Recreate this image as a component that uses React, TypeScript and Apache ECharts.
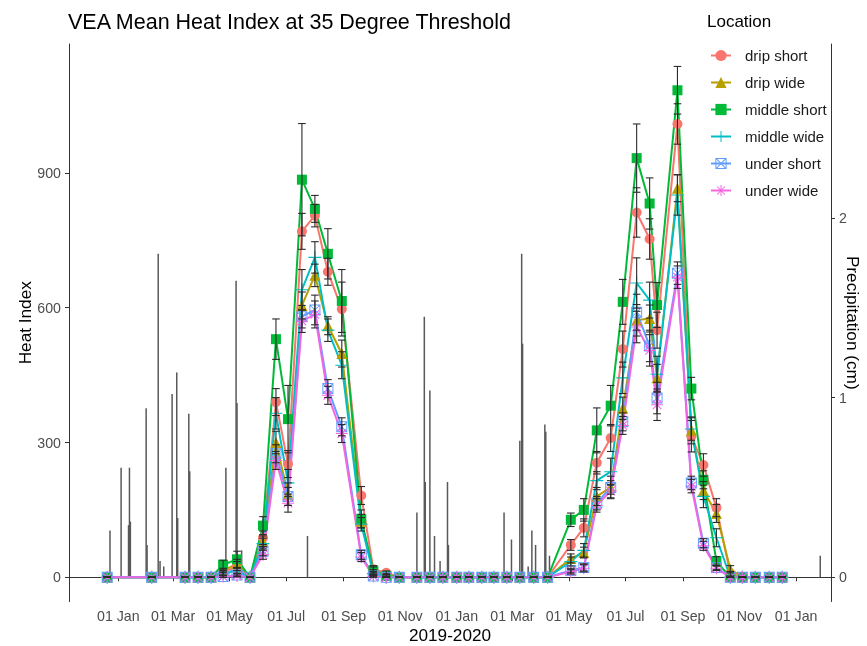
import { useEffect, useRef } from "react";
import * as echarts from "echarts";

// Biweekly sampling dates of the heat index loggers
const sampleDates = [
  "2018-12-20", "2019-02-06", "2019-03-14", "2019-03-28", "2019-04-11", "2019-04-24",
  "2019-05-09", "2019-05-23", "2019-06-06", "2019-06-20", "2019-07-03", "2019-07-18",
  "2019-08-01", "2019-08-15", "2019-08-30", "2019-09-20", "2019-10-03", "2019-10-17",
  "2019-10-31", "2019-11-19", "2019-12-03", "2019-12-17", "2020-01-01", "2020-01-14",
  "2020-01-28", "2020-02-10", "2020-02-24", "2020-03-09", "2020-03-24", "2020-04-08",
  "2020-05-03", "2020-05-17", "2020-05-31", "2020-06-15", "2020-06-28", "2020-07-13",
  "2020-07-27", "2020-08-04", "2020-08-26", "2020-09-10", "2020-09-23", "2020-10-07",
  "2020-10-22", "2020-11-04", "2020-11-18", "2020-12-03", "2020-12-17",
];

// Mean heat index per location
const dripShort = [0, 0, 0, 0, 0, 10, 25, 0, 88, 390, 252, 770, 805, 680, 597, 182, 18, 10, 0, 0, 0, 0, 0, 0, 0, 0, 0, 0, 0, 0, 72, 110, 255, 310, 508, 812, 753, 550, 1009, 314, 250, 155, 8, 0, 0, 0, 0];
const dripWide = [0, 0, 0, 0, 0, 15, 30, 0, 80, 300, 185, 605, 672, 560, 498, 125, 12, 5, 0, 0, 0, 0, 0, 0, 0, 0, 0, 0, 0, 0, 42, 55, 180, 200, 376, 572, 576, 444, 866, 327, 193, 142, 18, 0, 0, 0, 0];
const middleShort = [0, 0, 0, 0, 0, 28, 40, 0, 115, 530, 352, 885, 820, 720, 615, 130, 15, 3, 0, 0, 0, 0, 0, 0, 0, 0, 0, 0, 0, 0, 128, 150, 327, 382, 613, 933, 832, 606, 1084, 420, 217, 36, 0, 0, 0, 0, 0];
const middleWide = [0, 0, 0, 0, 0, 8, 15, 0, 75, 365, 210, 640, 712, 550, 472, 118, 8, 0, 0, 0, 0, 0, 0, 0, 0, 0, 0, 0, 0, 0, 35, 60, 215, 235, 444, 655, 617, 452, 851, 330, 180, 88, 0, 0, 0, 0, 0];
const underShort = [0, 0, 0, 0, 0, 2, 5, 0, 58, 275, 180, 580, 595, 420, 335, 50, 3, 0, 0, 0, 0, 0, 0, 0, 0, 0, 0, 0, 0, 0, 15, 22, 165, 200, 346, 590, 515, 399, 677, 210, 76, 22, 0, 0, 0, 0, 0];
const underWide = [0, 0, 0, 0, 0, 2, 3, 0, 50, 260, 165, 570, 585, 405, 320, 45, 2, 0, 0, 0, 0, 0, 0, 0, 0, 0, 0, 0, 0, 0, 12, 20, 160, 192, 338, 557, 505, 384, 668, 203, 70, 20, 0, 0, 0, 0, 0];

// Standard errors (half-widths of the error bars)
const dripShortSe = [0, 0, 0, 0, 0, 5, 10, 0, 15, 30, 30, 40, 25, 30, 60, 20, 8, 4, 0, 0, 0, 0, 0, 0, 0, 0, 0, 0, 0, 0, 12, 20, 25, 30, 40, 55, 45, 40, 45, 35, 25, 20, 5, 0, 0, 0, 0];
const dripWideSe = [0, 0, 0, 0, 0, 5, 10, 0, 12, 25, 25, 30, 25, 20, 30, 15, 5, 3, 0, 0, 0, 0, 0, 0, 0, 0, 0, 0, 0, 0, 10, 12, 20, 25, 25, 35, 30, 30, 30, 30, 20, 20, 8, 0, 0, 0, 0];
const middleShortSe = [0, 0, 0, 0, 0, 10, 18, 0, 20, 45, 75, 125, 30, 56, 70, 20, 8, 2, 0, 0, 0, 0, 0, 0, 0, 0, 0, 0, 0, 0, 15, 25, 50, 45, 50, 76, 57, 50, 53, 25, 20, 10, 0, 0, 0, 0, 0];
const middleWideSe = [0, 0, 0, 0, 0, 4, 6, 0, 12, 35, 30, 45, 35, 25, 30, 15, 5, 0, 0, 0, 0, 0, 0, 0, 0, 0, 0, 0, 0, 0, 10, 15, 20, 30, 35, 56, 40, 40, 45, 25, 25, 20, 0, 0, 0, 0, 0];
const underShortSe = [0, 0, 0, 0, 0, 2, 3, 0, 10, 20, 20, 25, 33, 20, 20, 10, 2, 0, 0, 0, 0, 0, 0, 0, 0, 0, 0, 0, 0, 0, 5, 8, 15, 15, 20, 40, 35, 35, 25, 15, 10, 5, 0, 0, 0, 0, 0];
const underWideSe = [0, 0, 0, 0, 0, 2, 2, 0, 10, 20, 20, 25, 30, 20, 20, 10, 2, 0, 0, 0, 0, 0, 0, 0, 0, 0, 0, 0, 0, 0, 5, 8, 15, 15, 20, 35, 35, 35, 25, 15, 10, 5, 0, 0, 0, 0, 0];

// Daily precipitation events (cm)
const precipDates = [
  "2018-12-23", "2019-01-04", "2019-01-12", "2019-01-13", "2019-01-14", "2019-01-31",
  "2019-02-01", "2019-02-13", "2019-02-15", "2019-02-19", "2019-02-28", "2019-03-05",
  "2019-03-06", "2019-03-18", "2019-03-19", "2019-04-27", "2019-05-08", "2019-05-09",
  "2019-05-14", "2019-07-24", "2019-11-19", "2019-11-27", "2019-11-28", "2019-12-03",
  "2019-12-08", "2019-12-14", "2019-12-22", "2019-12-23", "2020-02-21", "2020-02-29",
  "2020-03-09", "2020-03-11", "2020-03-12", "2020-03-18", "2020-03-22", "2020-03-26",
  "2020-04-05", "2020-04-06", "2020-04-10", "2021-01-27",
];
const precipCm = [
  0.26, 0.61, 0.29, 0.61, 0.31, 0.94,
  0.18, 1.8, 0.09, 0.06, 1.02, 1.14,
  0.33, 0.91, 0.59, 0.61, 1.65, 0.97,
  0.15, 0.23, 0.36, 1.45, 0.53, 1.04,
  0.23, 0.09, 0.53, 0.18, 0.36, 0.21,
  0.76, 1.8, 1.3, 0.06, 0.26, 0.18,
  0.85, 0.81, 0.12, 0.12,
];

// Axis ticks
const dateTicks = [
  "2019-01-01", "2019-03-01", "2019-05-01", "2019-07-01", "2019-09-01", "2019-11-01",
  "2020-01-01", "2020-03-01", "2020-05-01", "2020-07-01", "2020-09-01", "2020-11-01",
  "2021-01-01",
];
const heatTicks = [0, 300, 600, 900];
const precipTicks = [0, 1, 2];

const locations = ["drip short", "drip wide", "middle short", "middle wide", "under short", "under wide"];

const MONTHS = ["Jan", "Feb", "Mar", "Apr", "May", "Jun", "Jul", "Aug", "Sep", "Oct", "Nov", "Dec"];
const DAY = 86400000;
const toTime = (s: string) => Date.parse(s + "T00:00:00Z");
const FONT = "'Liberation Sans', Arial, sans-serif";

// Marker shapes
const PLUS = "path://M-0.7,-8H0.7V-0.7H8V0.7H0.7V8H-0.7V0.7H-8V-0.7H-0.7Z";
const BOX_X =
  "path://M-8,-8H8V8H-8Z M-6.6,-6.6V6.6H6.6V-6.6Z M-7,-6L-6,-7L7,6L6,7Z M6,-7L7,-6L-6,7L-7,6Z";
const ASTERISK =
  "path://M-0.7,-8H0.7V8H-0.7Z M-8,-0.7H8V0.7H-8Z M-6.2,-5.2L-5.2,-6.2L6.2,5.2L5.2,6.2Z M5.2,-6.2L6.2,-5.2L-5.2,6.2L-6.2,5.2Z";

const seriesDefs = [
  { name: locations[0], values: dripShort, se: dripShortSe, color: "#F8766D", symbol: "circle", size: 10 },
  { name: locations[1], values: dripWide, se: dripWideSe, color: "#B79F00", symbol: "triangle", size: 11 },
  { name: locations[2], values: middleShort, se: middleShortSe, color: "#00BA38", symbol: "rect", size: 10 },
  { name: locations[3], values: middleWide, se: middleWideSe, color: "#00BFC4", symbol: PLUS, size: 13 },
  { name: locations[4], values: underShort, se: underShortSe, color: "#619CFF", symbol: BOX_X, size: 11 },
  { name: locations[5], values: underWide, se: underWideSe, color: "#F564E3", symbol: ASTERISK, size: 12 },
];

export default function App() {
  const ref = useRef<HTMLDivElement>(null);

  useEffect(() => {
    if (!ref.current) return;
    const chart = echarts.init(ref.current, null, { renderer: "svg" });
    const jan1 = toTime("2019-01-01");
    const tickTimes = dateTicks.map(toTime);

    const lineSeries = seriesDefs.map((s) => ({
      name: s.name,
      type: "line",
      yAxisIndex: 0,
      data: sampleDates.map((d, i) => [toTime(d), s.values[i]]),
      symbol: s.symbol,
      symbolSize: s.size,
      showSymbol: true,
      itemStyle: { color: s.color },
      lineStyle: { color: s.color, width: 2 },
      z: 3,
    }));

    const errorSeries = seriesDefs.map((s) => ({
      name: s.name + " se",
      type: "custom",
      yAxisIndex: 0,
      data: sampleDates.map((d, i) => [toTime(d), s.values[i] - s.se[i], s.values[i] + s.se[i]]),
      encode: { x: 0, y: [1, 2] },
      z: 4,
      silent: true,
      renderItem: (_p: any, api: any) => {
        const t = api.value(0);
        const lo = api.coord([t, api.value(1)]);
        const hi = api.coord([t, api.value(2)]);
        const w = 3.8;
        const st = { stroke: "#2b2b2b", lineWidth: 1.1 };
        return {
          type: "group",
          children: [
            { type: "line", shape: { x1: lo[0], y1: lo[1], x2: hi[0], y2: hi[1] }, style: st },
            { type: "line", shape: { x1: lo[0] - w, y1: lo[1], x2: lo[0] + w, y2: lo[1] }, style: st },
            { type: "line", shape: { x1: hi[0] - w, y1: hi[1], x2: hi[0] + w, y2: hi[1] }, style: st },
          ],
        };
      },
    }));

    const precipSeries = {
      name: "precipitation",
      type: "custom",
      yAxisIndex: 1,
      data: precipDates.map((d, i) => [toTime(d), precipCm[i]]),
      encode: { x: 0, y: 1 },
      z: 1,
      silent: true,
      renderItem: (_p: any, api: any) => {
        const t = api.value(0);
        const top = api.coord([t, api.value(1)]);
        const base = api.coord([t, 0]);
        return {
          type: "rect",
          shape: { x: top[0] - 0.75, y: top[1], width: 1.5, height: base[1] - top[1] },
          style: { fill: "#595959" },
        };
      },
    };

    const axisCommon = {
      splitLine: { show: false },
      nameMoveOverlap: false,
      axisLine: { show: true, lineStyle: { color: "#333333", width: 1 } },
      axisTick: { show: true, length: 4, lineStyle: { color: "#333333" } },
    };
    const tickFont = { color: "#4d4d4d", fontSize: 14.2, fontFamily: FONT };
    const nameFont = { color: "#000000", fontSize: 17.2, fontFamily: FONT };

    chart.setOption({
      animation: false,
      textStyle: { fontFamily: FONT },
      title: {
        text: "VEA Mean Heat Index at 35 Degree Threshold",
        left: 63,
        top: 6,
        textStyle: { fontSize: 21.5, fontWeight: "normal", color: "#000000", fontFamily: FONT },
      },
      graphic: [
        {
          type: "text",
          left: 707,
          top: 13,
          style: { text: "Location", fontSize: 17, fill: "#000000", fontFamily: FONT },
        },
      ],
      legend: {
        data: locations,
        orient: "vertical",
        left: 705,
        top: 43,
        itemWidth: 20,
        itemHeight: 14,
        itemGap: 12,
        textStyle: { fontSize: 15, color: "#1a1a1a", fontFamily: FONT, padding: [0, 0, 0, 9] },
      },
      grid: { left: 69, right: 36, top: 44, bottom: 44.5, containLabel: false, outerBoundsMode: "none" },
      xAxis: {
        type: "value",
        min: jan1 - 53.2 * DAY,
        max: jan1 + 768.6 * DAY,
        ...axisCommon,
        axisTick: { ...axisCommon.axisTick, customValues: tickTimes },
        axisLabel: {
          customValues: tickTimes,
          ...tickFont,
          margin: 7.5,
          formatter: (v: number) => "01 " + MONTHS[new Date(v).getUTCMonth()],
        },
        name: "2019-2020",
        nameLocation: "middle",
        nameGap: 25,
        nameTextStyle: nameFont,
      },
      yAxis: [
        {
          type: "value",
          min: -53.9,
          max: 1187,
          ...axisCommon,
          axisTick: { ...axisCommon.axisTick, customValues: heatTicks },
          axisLabel: { customValues: heatTicks, ...tickFont, margin: 8 },
          name: "Heat Index",
          nameLocation: "middle",
          nameGap: 36,
          nameTextStyle: nameFont,
        },
        {
          type: "value",
          position: "right",
          min: -53.9 / 400,
          max: 1187 / 400,
          ...axisCommon,
          axisTick: { ...axisCommon.axisTick, customValues: precipTicks },
          axisLabel: { customValues: precipTicks, ...tickFont, margin: 8 },
          name: "Precipitation (cm)",
          nameLocation: "middle",
          nameRotate: -90,
          nameGap: 13,
          nameTextStyle: nameFont,
        },
      ],
      series: [precipSeries, ...lineSeries, ...errorSeries],
    });

    return () => chart.dispose();
  }, []);

  return <div ref={ref} style={{ position: "fixed", left: 0, top: 0, width: 867, height: 646 }} />;
}
